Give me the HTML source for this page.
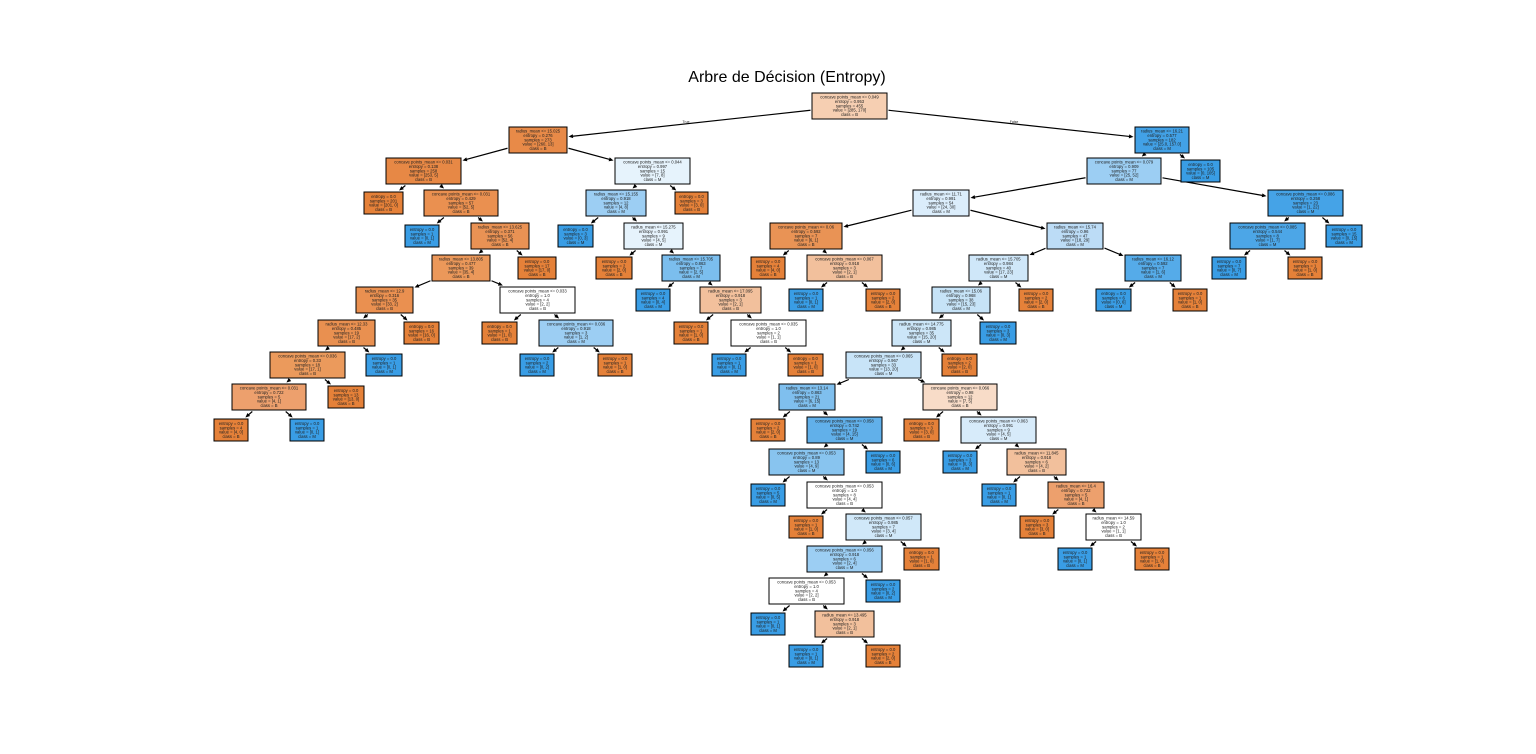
<!DOCTYPE html>
<html><head><meta charset="utf-8"><style>
html,body{margin:0;padding:0;background:#fff;}
svg{display:block;}
text{font-family:"Liberation Sans","DejaVu Sans",sans-serif;font-size:4.2px;fill:#222;text-anchor:middle;}
.t{font-size:16px;fill:#000;}
rect{stroke:#000;stroke-width:1;}
</style></head><body>
<svg id="s" width="1536" height="754" viewBox="0 0 1536 754" xmlns="http://www.w3.org/2000/svg">
<rect x="0" y="0" width="1536" height="754" fill="#fff" style="stroke:none"/>
<text class="t" x="787" y="82">Arbre de Décision (Entropy)</text>
<g id="edges"></g>
<text x="686" y="123" style="font-size:3.5px">True</text>
<text x="1014" y="123" style="font-size:3.5px">False</text>
<g id="nodes">
<g id="root"><rect x="812" y="93" width="75" height="26" fill="#f6cfb2"/><text x="849.5" y="98.5">concave points_mean &lt;= 0.049<tspan x="849.5" dy="4.4">entropy = 0.953</tspan><tspan x="849.5" dy="4.4">samples = 455</tspan><tspan x="849.5" dy="4.4">value = [285, 170]</tspan><tspan x="849.5" dy="4.4">class = B</tspan></text></g>
<g id="L1L"><rect x="509" y="127" width="58" height="26" fill="#e88a48"/><text x="538" y="132.5">radius_mean &lt;= 15.025<tspan x="538" dy="4.4">entropy = 0.276</tspan><tspan x="538" dy="4.4">samples = 273</tspan><tspan x="538" dy="4.4">value = [260, 13]</tspan><tspan x="538" dy="4.4">class = B</tspan></text></g>
<g id="L1R"><rect x="1135" y="127" width="54" height="26" fill="#42a1e6"/><text x="1162" y="132.5">radius_mean &lt;= 16.21<tspan x="1162" dy="4.4">entropy = 0.577</tspan><tspan x="1162" dy="4.4">samples = 182</tspan><tspan x="1162" dy="4.4">value = [25.0, 157.0]</tspan><tspan x="1162" dy="4.4">class = M</tspan></text></g>
<g id="A"><rect x="386" y="158" width="75" height="26" fill="#e78845"/><text x="423.5" y="163.5">concave points_mean &lt;= 0.031<tspan x="423.5" dy="4.4">entropy = 0.138</tspan><tspan x="423.5" dy="4.4">samples = 258</tspan><tspan x="423.5" dy="4.4">value = [253, 5]</tspan><tspan x="423.5" dy="4.4">class = B</tspan></text></g>
<g id="B"><rect x="615" y="158" width="75" height="26" fill="#e6f3fc"/><text x="652.5" y="163.5">concave points_mean &lt;= 0.044<tspan x="652.5" dy="4.4">entropy = 0.997</tspan><tspan x="652.5" dy="4.4">samples = 15</tspan><tspan x="652.5" dy="4.4">value = [7, 8]</tspan><tspan x="652.5" dy="4.4">class = M</tspan></text></g>
<g id="C"><rect x="1087" y="158" width="74" height="26" fill="#9ccef3"/><text x="1124" y="163.5">concave points_mean &lt;= 0.079<tspan x="1124" dy="4.4">entropy = 0.909</tspan><tspan x="1124" dy="4.4">samples = 77</tspan><tspan x="1124" dy="4.4">value = [25, 52]</tspan><tspan x="1124" dy="4.4">class = M</tspan></text></g>
<g id="l1"><rect x="1181" y="160" width="39" height="22" fill="#399de5"/><text x="1200.5" y="166">entropy = 0.0<tspan x="1200.5" dy="4.3">samples = 105</tspan><tspan x="1200.5" dy="4.3">value = [0, 105]</tspan><tspan x="1200.5" dy="4.3">class = M</tspan></text></g>
<g id="l2"><rect x="364" y="192" width="39" height="22" fill="#e58139"/><text x="383.5" y="198">entropy = 0.0<tspan x="383.5" dy="4.3">samples = 201</tspan><tspan x="383.5" dy="4.3">value = [201, 0]</tspan><tspan x="383.5" dy="4.3">class = B</tspan></text></g>
<g id="D"><rect x="424" y="190" width="74" height="26" fill="#ea9050"/><text x="461" y="195.5">concave points_mean &lt;= 0.031<tspan x="461" dy="4.4">entropy = 0.429</tspan><tspan x="461" dy="4.4">samples = 57</tspan><tspan x="461" dy="4.4">value = [52, 5]</tspan><tspan x="461" dy="4.4">class = B</tspan></text></g>
<g id="E"><rect x="586" y="190" width="60" height="26" fill="#9ccef3"/><text x="616" y="195.5">radius_mean &lt;= 15.155<tspan x="616" dy="4.4">entropy = 0.918</tspan><tspan x="616" dy="4.4">samples = 12</tspan><tspan x="616" dy="4.4">value = [4, 8]</tspan><tspan x="616" dy="4.4">class = M</tspan></text></g>
<g id="l3"><rect x="675" y="192" width="33" height="22" fill="#e58139"/><text x="691.5" y="198">entropy = 0.0<tspan x="691.5" dy="4.3">samples = 3</tspan><tspan x="691.5" dy="4.3">value = [3, 0]</tspan><tspan x="691.5" dy="4.3">class = B</tspan></text></g>
<g id="F"><rect x="913" y="190" width="56" height="26" fill="#dbedfb"/><text x="941" y="195.5">radius_mean &lt;= 11.71<tspan x="941" dy="4.4">entropy = 0.991</tspan><tspan x="941" dy="4.4">samples = 54</tspan><tspan x="941" dy="4.4">value = [24, 30]</tspan><tspan x="941" dy="4.4">class = M</tspan></text></g>
<g id="G"><rect x="1268" y="190" width="75" height="26" fill="#45a3e7"/><text x="1305.5" y="195.5">concave points_mean &lt;= 0.086<tspan x="1305.5" dy="4.4">entropy = 0.258</tspan><tspan x="1305.5" dy="4.4">samples = 23</tspan><tspan x="1305.5" dy="4.4">value = [1, 22]</tspan><tspan x="1305.5" dy="4.4">class = M</tspan></text></g>
<g id="l4"><rect x="405" y="225" width="34" height="22" fill="#399de5"/><text x="422" y="231">entropy = 0.0<tspan x="422" dy="4.3">samples = 1</tspan><tspan x="422" dy="4.3">value = [0, 1]</tspan><tspan x="422" dy="4.3">class = M</tspan></text></g>
<g id="H"><rect x="471" y="223" width="58" height="26" fill="#e99254"/><text x="500" y="228.5">radius_mean &lt;= 13.625<tspan x="500" dy="4.4">entropy = 0.371</tspan><tspan x="500" dy="4.4">samples = 56</tspan><tspan x="500" dy="4.4">value = [52, 4]</tspan><tspan x="500" dy="4.4">class = B</tspan></text></g>
<g id="l5"><rect x="558" y="225" width="35" height="22" fill="#399de5"/><text x="575.5" y="231">entropy = 0.0<tspan x="575.5" dy="4.3">samples = 3</tspan><tspan x="575.5" dy="4.3">value = [0, 3]</tspan><tspan x="575.5" dy="4.3">class = M</tspan></text></g>
<g id="I"><rect x="624" y="223" width="59" height="26" fill="#e6f3fc"/><text x="653.5" y="228.5">radius_mean &lt;= 15.275<tspan x="653.5" dy="4.4">entropy = 0.991</tspan><tspan x="653.5" dy="4.4">samples = 9</tspan><tspan x="653.5" dy="4.4">value = [4, 5]</tspan><tspan x="653.5" dy="4.4">class = M</tspan></text></g>
<g id="J"><rect x="770" y="223" width="72" height="26" fill="#e99355"/><text x="806" y="228.5">concave points_mean &lt;= 0.06<tspan x="806" dy="4.4">entropy = 0.592</tspan><tspan x="806" dy="4.4">samples = 7</tspan><tspan x="806" dy="4.4">value = [6, 1]</tspan><tspan x="806" dy="4.4">class = B</tspan></text></g>
<g id="K"><rect x="1047" y="223" width="56" height="26" fill="#bcdcf6"/><text x="1075" y="228.5">radius_mean &lt;= 15.74<tspan x="1075" dy="4.4">entropy = 0.96</tspan><tspan x="1075" dy="4.4">samples = 47</tspan><tspan x="1075" dy="4.4">value = [18, 29]</tspan><tspan x="1075" dy="4.4">class = M</tspan></text></g>
<g id="L"><rect x="1230" y="223" width="75" height="26" fill="#4ca6e7"/><text x="1267.5" y="228.5">concave points_mean &lt;= 0.085<tspan x="1267.5" dy="4.4">entropy = 0.544</tspan><tspan x="1267.5" dy="4.4">samples = 8</tspan><tspan x="1267.5" dy="4.4">value = [1, 7]</tspan><tspan x="1267.5" dy="4.4">class = M</tspan></text></g>
<g id="l6"><rect x="1326" y="225" width="36" height="22" fill="#399de5"/><text x="1344" y="231">entropy = 0.0<tspan x="1344" dy="4.3">samples = 15</tspan><tspan x="1344" dy="4.3">value = [0, 15]</tspan><tspan x="1344" dy="4.3">class = M</tspan></text></g>
<g id="M"><rect x="432" y="255" width="58" height="26" fill="#eb985a"/><text x="461" y="260.5">radius_mean &lt;= 13.805<tspan x="461" dy="4.4">entropy = 0.477</tspan><tspan x="461" dy="4.4">samples = 39</tspan><tspan x="461" dy="4.4">value = [35, 4]</tspan><tspan x="461" dy="4.4">class = B</tspan></text></g>
<g id="l7"><rect x="518" y="257" width="38" height="22" fill="#e58139"/><text x="537" y="263">entropy = 0.0<tspan x="537" dy="4.3">samples = 17</tspan><tspan x="537" dy="4.3">value = [17, 0]</tspan><tspan x="537" dy="4.3">class = B</tspan></text></g>
<g id="l8"><rect x="596" y="257" width="36" height="22" fill="#e58139"/><text x="614" y="263">entropy = 0.0<tspan x="614" dy="4.3">samples = 2</tspan><tspan x="614" dy="4.3">value = [2, 0]</tspan><tspan x="614" dy="4.3">class = B</tspan></text></g>
<g id="N"><rect x="662" y="255" width="58" height="26" fill="#7bbeee"/><text x="691" y="260.5">radius_mean &lt;= 15.705<tspan x="691" dy="4.4">entropy = 0.863</tspan><tspan x="691" dy="4.4">samples = 7</tspan><tspan x="691" dy="4.4">value = [2, 5]</tspan><tspan x="691" dy="4.4">class = M</tspan></text></g>
<g id="l9"><rect x="751" y="257" width="34" height="22" fill="#e58139"/><text x="768" y="263">entropy = 0.0<tspan x="768" dy="4.3">samples = 4</tspan><tspan x="768" dy="4.3">value = [4, 0]</tspan><tspan x="768" dy="4.3">class = B</tspan></text></g>
<g id="O"><rect x="807" y="255" width="75" height="26" fill="#f2c09c"/><text x="844.5" y="260.5">concave points_mean &lt;= 0.067<tspan x="844.5" dy="4.4">entropy = 0.918</tspan><tspan x="844.5" dy="4.4">samples = 3</tspan><tspan x="844.5" dy="4.4">value = [2, 1]</tspan><tspan x="844.5" dy="4.4">class = B</tspan></text></g>
<g id="P"><rect x="969" y="255" width="59" height="26" fill="#cfe7f9"/><text x="998.5" y="260.5">radius_mean &lt;= 15.705<tspan x="998.5" dy="4.4">entropy = 0.984</tspan><tspan x="998.5" dy="4.4">samples = 40</tspan><tspan x="998.5" dy="4.4">value = [17, 23]</tspan><tspan x="998.5" dy="4.4">class = M</tspan></text></g>
<g id="Q"><rect x="1125" y="255" width="56" height="26" fill="#55abe9"/><text x="1153" y="260.5">radius_mean &lt;= 16.12<tspan x="1153" dy="4.4">entropy = 0.592</tspan><tspan x="1153" dy="4.4">samples = 7</tspan><tspan x="1153" dy="4.4">value = [1, 6]</tspan><tspan x="1153" dy="4.4">class = M</tspan></text></g>
<g id="l10"><rect x="1212" y="257" width="34" height="22" fill="#399de5"/><text x="1229" y="263">entropy = 0.0<tspan x="1229" dy="4.3">samples = 7</tspan><tspan x="1229" dy="4.3">value = [0, 7]</tspan><tspan x="1229" dy="4.3">class = M</tspan></text></g>
<g id="l11"><rect x="1288" y="257" width="34" height="22" fill="#e58139"/><text x="1305" y="263">entropy = 0.0<tspan x="1305" dy="4.3">samples = 1</tspan><tspan x="1305" dy="4.3">value = [1, 0]</tspan><tspan x="1305" dy="4.3">class = B</tspan></text></g>
<g id="R"><rect x="356" y="287" width="57" height="26" fill="#ea9050"/><text x="384.5" y="292.5">radius_mean &lt;= 12.9<tspan x="384.5" dy="4.4">entropy = 0.316</tspan><tspan x="384.5" dy="4.4">samples = 35</tspan><tspan x="384.5" dy="4.4">value = [33, 2]</tspan><tspan x="384.5" dy="4.4">class = B</tspan></text></g>
<g id="S"><rect x="500" y="287" width="75" height="26" fill="#ffffff"/><text x="537.5" y="292.5">concave points_mean &lt;= 0.033<tspan x="537.5" dy="4.4">entropy = 1.0</tspan><tspan x="537.5" dy="4.4">samples = 4</tspan><tspan x="537.5" dy="4.4">value = [2, 2]</tspan><tspan x="537.5" dy="4.4">class = B</tspan></text></g>
<g id="l12"><rect x="636" y="289" width="34" height="22" fill="#399de5"/><text x="653" y="295">entropy = 0.0<tspan x="653" dy="4.3">samples = 4</tspan><tspan x="653" dy="4.3">value = [0, 4]</tspan><tspan x="653" dy="4.3">class = M</tspan></text></g>
<g id="T"><rect x="700" y="287" width="61" height="26" fill="#f2c09c"/><text x="730.5" y="292.5">radius_mean &lt;= 17.095<tspan x="730.5" dy="4.4">entropy = 0.918</tspan><tspan x="730.5" dy="4.4">samples = 3</tspan><tspan x="730.5" dy="4.4">value = [2, 1]</tspan><tspan x="730.5" dy="4.4">class = B</tspan></text></g>
<g id="l13"><rect x="789" y="289" width="34" height="22" fill="#399de5"/><text x="806" y="295">entropy = 0.0<tspan x="806" dy="4.3">samples = 1</tspan><tspan x="806" dy="4.3">value = [0, 1]</tspan><tspan x="806" dy="4.3">class = M</tspan></text></g>
<g id="l14"><rect x="866" y="289" width="34" height="22" fill="#e58139"/><text x="883" y="295">entropy = 0.0<tspan x="883" dy="4.3">samples = 2</tspan><tspan x="883" dy="4.3">value = [2, 0]</tspan><tspan x="883" dy="4.3">class = B</tspan></text></g>
<g id="U"><rect x="932" y="287" width="58" height="26" fill="#c6e3f7"/><text x="961" y="292.5">radius_mean &lt;= 15.06<tspan x="961" dy="4.4">entropy = 0.968</tspan><tspan x="961" dy="4.4">samples = 38</tspan><tspan x="961" dy="4.4">value = [15, 23]</tspan><tspan x="961" dy="4.4">class = M</tspan></text></g>
<g id="l15"><rect x="1019" y="289" width="34" height="22" fill="#e58139"/><text x="1036" y="295">entropy = 0.0<tspan x="1036" dy="4.3">samples = 2</tspan><tspan x="1036" dy="4.3">value = [2, 0]</tspan><tspan x="1036" dy="4.3">class = B</tspan></text></g>
<g id="l16"><rect x="1096" y="289" width="35" height="22" fill="#399de5"/><text x="1113.5" y="295">entropy = 0.0<tspan x="1113.5" dy="4.3">samples = 6</tspan><tspan x="1113.5" dy="4.3">value = [0, 6]</tspan><tspan x="1113.5" dy="4.3">class = M</tspan></text></g>
<g id="l17"><rect x="1173" y="289" width="34" height="22" fill="#e58139"/><text x="1190" y="295">entropy = 0.0<tspan x="1190" dy="4.3">samples = 1</tspan><tspan x="1190" dy="4.3">value = [1, 0]</tspan><tspan x="1190" dy="4.3">class = B</tspan></text></g>
<g id="V"><rect x="318" y="320" width="57" height="26" fill="#e99050"/><text x="346.5" y="325.5">radius_mean &lt;= 12.33<tspan x="346.5" dy="4.4">entropy = 0.485</tspan><tspan x="346.5" dy="4.4">samples = 19</tspan><tspan x="346.5" dy="4.4">value = [17, 2]</tspan><tspan x="346.5" dy="4.4">class = B</tspan></text></g>
<g id="l18"><rect x="404" y="322" width="35" height="22" fill="#e58139"/><text x="421.5" y="328">entropy = 0.0<tspan x="421.5" dy="4.3">samples = 16</tspan><tspan x="421.5" dy="4.3">value = [16, 0]</tspan><tspan x="421.5" dy="4.3">class = B</tspan></text></g>
<g id="l19"><rect x="482" y="322" width="35" height="22" fill="#e58139"/><text x="499.5" y="328">entropy = 0.0<tspan x="499.5" dy="4.3">samples = 1</tspan><tspan x="499.5" dy="4.3">value = [1, 0]</tspan><tspan x="499.5" dy="4.3">class = B</tspan></text></g>
<g id="W"><rect x="539" y="320" width="74" height="26" fill="#9ccef3"/><text x="576" y="325.5">concave points_mean &lt;= 0.036<tspan x="576" dy="4.4">entropy = 0.918</tspan><tspan x="576" dy="4.4">samples = 3</tspan><tspan x="576" dy="4.4">value = [1, 2]</tspan><tspan x="576" dy="4.4">class = M</tspan></text></g>
<g id="l20"><rect x="674" y="322" width="34" height="22" fill="#e58139"/><text x="691" y="328">entropy = 0.0<tspan x="691" dy="4.3">samples = 1</tspan><tspan x="691" dy="4.3">value = [1, 0]</tspan><tspan x="691" dy="4.3">class = B</tspan></text></g>
<g id="X"><rect x="731" y="320" width="75" height="26" fill="#ffffff"/><text x="768.5" y="325.5">concave points_mean &lt;= 0.035<tspan x="768.5" dy="4.4">entropy = 1.0</tspan><tspan x="768.5" dy="4.4">samples = 2</tspan><tspan x="768.5" dy="4.4">value = [1, 1]</tspan><tspan x="768.5" dy="4.4">class = B</tspan></text></g>
<g id="Y"><rect x="892" y="320" width="59" height="26" fill="#cce6f8"/><text x="921.5" y="325.5">radius_mean &lt;= 14.775<tspan x="921.5" dy="4.4">entropy = 0.985</tspan><tspan x="921.5" dy="4.4">samples = 35</tspan><tspan x="921.5" dy="4.4">value = [15, 20]</tspan><tspan x="921.5" dy="4.4">class = M</tspan></text></g>
<g id="l21"><rect x="980" y="322" width="36" height="22" fill="#399de5"/><text x="998" y="328">entropy = 0.0<tspan x="998" dy="4.3">samples = 3</tspan><tspan x="998" dy="4.3">value = [0, 3]</tspan><tspan x="998" dy="4.3">class = M</tspan></text></g>
<g id="Z"><rect x="270" y="352" width="75" height="26" fill="#eb9a5c"/><text x="307.5" y="357.5">concave points_mean &lt;= 0.036<tspan x="307.5" dy="4.4">entropy = 0.33</tspan><tspan x="307.5" dy="4.4">samples = 18</tspan><tspan x="307.5" dy="4.4">value = [17, 1]</tspan><tspan x="307.5" dy="4.4">class = B</tspan></text></g>
<g id="l22"><rect x="366" y="354" width="36" height="22" fill="#399de5"/><text x="384" y="360">entropy = 0.0<tspan x="384" dy="4.3">samples = 1</tspan><tspan x="384" dy="4.3">value = [0, 1]</tspan><tspan x="384" dy="4.3">class = M</tspan></text></g>
<g id="l23"><rect x="520" y="354" width="34" height="22" fill="#399de5"/><text x="537" y="360">entropy = 0.0<tspan x="537" dy="4.3">samples = 2</tspan><tspan x="537" dy="4.3">value = [0, 2]</tspan><tspan x="537" dy="4.3">class = M</tspan></text></g>
<g id="l24"><rect x="598" y="354" width="34" height="22" fill="#e58139"/><text x="615" y="360">entropy = 0.0<tspan x="615" dy="4.3">samples = 1</tspan><tspan x="615" dy="4.3">value = [1, 0]</tspan><tspan x="615" dy="4.3">class = B</tspan></text></g>
<g id="l25"><rect x="712" y="354" width="34" height="22" fill="#399de5"/><text x="729" y="360">entropy = 0.0<tspan x="729" dy="4.3">samples = 1</tspan><tspan x="729" dy="4.3">value = [0, 1]</tspan><tspan x="729" dy="4.3">class = M</tspan></text></g>
<g id="l26"><rect x="788" y="354" width="35" height="22" fill="#e58139"/><text x="805.5" y="360">entropy = 0.0<tspan x="805.5" dy="4.3">samples = 1</tspan><tspan x="805.5" dy="4.3">value = [1, 0]</tspan><tspan x="805.5" dy="4.3">class = B</tspan></text></g>
<g id="AA"><rect x="846" y="352" width="75" height="26" fill="#c8e4f8"/><text x="883.5" y="357.5">concave points_mean &lt;= 0.065<tspan x="883.5" dy="4.4">entropy = 0.967</tspan><tspan x="883.5" dy="4.4">samples = 33</tspan><tspan x="883.5" dy="4.4">value = [13, 20]</tspan><tspan x="883.5" dy="4.4">class = M</tspan></text></g>
<g id="l27"><rect x="942" y="354" width="35" height="22" fill="#e58139"/><text x="959.5" y="360">entropy = 0.0<tspan x="959.5" dy="4.3">samples = 2</tspan><tspan x="959.5" dy="4.3">value = [2, 0]</tspan><tspan x="959.5" dy="4.3">class = B</tspan></text></g>
<g id="AB"><rect x="232" y="384" width="74" height="26" fill="#eda06d"/><text x="269" y="389.5">concave points_mean &lt;= 0.031<tspan x="269" dy="4.4">entropy = 0.722</tspan><tspan x="269" dy="4.4">samples = 5</tspan><tspan x="269" dy="4.4">value = [4, 1]</tspan><tspan x="269" dy="4.4">class = B</tspan></text></g>
<g id="l28"><rect x="328" y="386" width="36" height="22" fill="#e58139"/><text x="346" y="392">entropy = 0.0<tspan x="346" dy="4.3">samples = 13</tspan><tspan x="346" dy="4.3">value = [13, 0]</tspan><tspan x="346" dy="4.3">class = B</tspan></text></g>
<g id="AC"><rect x="779" y="384" width="56" height="26" fill="#7fbfee"/><text x="807" y="389.5">radius_mean &lt;= 13.14<tspan x="807" dy="4.4">entropy = 0.863</tspan><tspan x="807" dy="4.4">samples = 21</tspan><tspan x="807" dy="4.4">value = [6, 15]</tspan><tspan x="807" dy="4.4">class = M</tspan></text></g>
<g id="AD"><rect x="923" y="384" width="74" height="26" fill="#f8dcc8"/><text x="960" y="389.5">concave points_mean &lt;= 0.066<tspan x="960" dy="4.4">entropy = 0.98</tspan><tspan x="960" dy="4.4">samples = 12</tspan><tspan x="960" dy="4.4">value = [7, 5]</tspan><tspan x="960" dy="4.4">class = B</tspan></text></g>
<g id="l29"><rect x="214" y="419" width="34" height="22" fill="#e58139"/><text x="231" y="425">entropy = 0.0<tspan x="231" dy="4.3">samples = 4</tspan><tspan x="231" dy="4.3">value = [4, 0]</tspan><tspan x="231" dy="4.3">class = B</tspan></text></g>
<g id="l30"><rect x="290" y="419" width="34" height="22" fill="#399de5"/><text x="307" y="425">entropy = 0.0<tspan x="307" dy="4.3">samples = 1</tspan><tspan x="307" dy="4.3">value = [0, 1]</tspan><tspan x="307" dy="4.3">class = M</tspan></text></g>
<g id="l31"><rect x="751" y="419" width="34" height="22" fill="#e58139"/><text x="768" y="425">entropy = 0.0<tspan x="768" dy="4.3">samples = 2</tspan><tspan x="768" dy="4.3">value = [2, 0]</tspan><tspan x="768" dy="4.3">class = B</tspan></text></g>
<g id="AE"><rect x="807" y="417" width="75" height="26" fill="#61b0ea"/><text x="844.5" y="422.5">concave points_mean &lt;= 0.058<tspan x="844.5" dy="4.4">entropy = 0.742</tspan><tspan x="844.5" dy="4.4">samples = 19</tspan><tspan x="844.5" dy="4.4">value = [4, 15]</tspan><tspan x="844.5" dy="4.4">class = M</tspan></text></g>
<g id="l32"><rect x="904" y="419" width="35" height="22" fill="#e58139"/><text x="921.5" y="425">entropy = 0.0<tspan x="921.5" dy="4.3">samples = 3</tspan><tspan x="921.5" dy="4.3">value = [3, 0]</tspan><tspan x="921.5" dy="4.3">class = B</tspan></text></g>
<g id="AF"><rect x="961" y="417" width="75" height="26" fill="#d7ebfa"/><text x="998.5" y="422.5">concave points_mean &lt;= 0.063<tspan x="998.5" dy="4.4">entropy = 0.991</tspan><tspan x="998.5" dy="4.4">samples = 9</tspan><tspan x="998.5" dy="4.4">value = [4, 5]</tspan><tspan x="998.5" dy="4.4">class = M</tspan></text></g>
<g id="AG"><rect x="769" y="449" width="75" height="26" fill="#88c4ef"/><text x="806.5" y="454.5">concave points_mean &lt;= 0.053<tspan x="806.5" dy="4.4">entropy = 0.89</tspan><tspan x="806.5" dy="4.4">samples = 13</tspan><tspan x="806.5" dy="4.4">value = [4, 9]</tspan><tspan x="806.5" dy="4.4">class = M</tspan></text></g>
<g id="l33"><rect x="866" y="451" width="34" height="22" fill="#399de5"/><text x="883" y="457">entropy = 0.0<tspan x="883" dy="4.3">samples = 6</tspan><tspan x="883" dy="4.3">value = [0, 6]</tspan><tspan x="883" dy="4.3">class = M</tspan></text></g>
<g id="l34"><rect x="943" y="451" width="34" height="22" fill="#399de5"/><text x="960" y="457">entropy = 0.0<tspan x="960" dy="4.3">samples = 3</tspan><tspan x="960" dy="4.3">value = [0, 3]</tspan><tspan x="960" dy="4.3">class = M</tspan></text></g>
<g id="AH"><rect x="1007" y="449" width="59" height="26" fill="#f2c09c"/><text x="1036.5" y="454.5">radius_mean &lt;= 11.845<tspan x="1036.5" dy="4.4">entropy = 0.918</tspan><tspan x="1036.5" dy="4.4">samples = 6</tspan><tspan x="1036.5" dy="4.4">value = [4, 2]</tspan><tspan x="1036.5" dy="4.4">class = B</tspan></text></g>
<g id="l35"><rect x="751" y="484" width="34" height="22" fill="#399de5"/><text x="768" y="490">entropy = 0.0<tspan x="768" dy="4.3">samples = 5</tspan><tspan x="768" dy="4.3">value = [0, 5]</tspan><tspan x="768" dy="4.3">class = M</tspan></text></g>
<g id="AI"><rect x="807" y="482" width="75" height="26" fill="#ffffff"/><text x="844.5" y="487.5">concave points_mean &lt;= 0.053<tspan x="844.5" dy="4.4">entropy = 1.0</tspan><tspan x="844.5" dy="4.4">samples = 8</tspan><tspan x="844.5" dy="4.4">value = [4, 4]</tspan><tspan x="844.5" dy="4.4">class = B</tspan></text></g>
<g id="l36"><rect x="982" y="484" width="34" height="22" fill="#399de5"/><text x="999" y="490">entropy = 0.0<tspan x="999" dy="4.3">samples = 1</tspan><tspan x="999" dy="4.3">value = [0, 1]</tspan><tspan x="999" dy="4.3">class = M</tspan></text></g>
<g id="AJ"><rect x="1048" y="482" width="56" height="26" fill="#eda06d"/><text x="1076" y="487.5">radius_mean &lt;= 16.4<tspan x="1076" dy="4.4">entropy = 0.722</tspan><tspan x="1076" dy="4.4">samples = 5</tspan><tspan x="1076" dy="4.4">value = [4, 1]</tspan><tspan x="1076" dy="4.4">class = B</tspan></text></g>
<g id="l37"><rect x="789" y="516" width="34" height="22" fill="#e58139"/><text x="806" y="522">entropy = 0.0<tspan x="806" dy="4.3">samples = 1</tspan><tspan x="806" dy="4.3">value = [1, 0]</tspan><tspan x="806" dy="4.3">class = B</tspan></text></g>
<g id="AK"><rect x="846" y="514" width="75" height="26" fill="#d0e8f9"/><text x="883.5" y="519.5">concave points_mean &lt;= 0.057<tspan x="883.5" dy="4.4">entropy = 0.985</tspan><tspan x="883.5" dy="4.4">samples = 7</tspan><tspan x="883.5" dy="4.4">value = [3, 4]</tspan><tspan x="883.5" dy="4.4">class = M</tspan></text></g>
<g id="l38"><rect x="1020" y="516" width="34" height="22" fill="#e58139"/><text x="1037" y="522">entropy = 0.0<tspan x="1037" dy="4.3">samples = 3</tspan><tspan x="1037" dy="4.3">value = [3, 0]</tspan><tspan x="1037" dy="4.3">class = B</tspan></text></g>
<g id="AL"><rect x="1086" y="514" width="55" height="26" fill="#ffffff"/><text x="1113.5" y="519.5">radius_mean &lt;= 14.59<tspan x="1113.5" dy="4.4">entropy = 1.0</tspan><tspan x="1113.5" dy="4.4">samples = 2</tspan><tspan x="1113.5" dy="4.4">value = [1, 1]</tspan><tspan x="1113.5" dy="4.4">class = B</tspan></text></g>
<g id="AM"><rect x="807" y="546" width="75" height="26" fill="#9ccef3"/><text x="844.5" y="551.5">concave points_mean &lt;= 0.056<tspan x="844.5" dy="4.4">entropy = 0.918</tspan><tspan x="844.5" dy="4.4">samples = 6</tspan><tspan x="844.5" dy="4.4">value = [2, 4]</tspan><tspan x="844.5" dy="4.4">class = M</tspan></text></g>
<g id="l39"><rect x="904" y="548" width="35" height="22" fill="#e58139"/><text x="921.5" y="554">entropy = 0.0<tspan x="921.5" dy="4.3">samples = 1</tspan><tspan x="921.5" dy="4.3">value = [1, 0]</tspan><tspan x="921.5" dy="4.3">class = B</tspan></text></g>
<g id="l40"><rect x="1058" y="548" width="34" height="22" fill="#399de5"/><text x="1075" y="554">entropy = 0.0<tspan x="1075" dy="4.3">samples = 1</tspan><tspan x="1075" dy="4.3">value = [0, 1]</tspan><tspan x="1075" dy="4.3">class = M</tspan></text></g>
<g id="l41"><rect x="1135" y="548" width="34" height="22" fill="#e58139"/><text x="1152" y="554">entropy = 0.0<tspan x="1152" dy="4.3">samples = 1</tspan><tspan x="1152" dy="4.3">value = [1, 0]</tspan><tspan x="1152" dy="4.3">class = B</tspan></text></g>
<g id="AN"><rect x="769" y="578" width="75" height="26" fill="#ffffff"/><text x="806.5" y="583.5">concave points_mean &lt;= 0.053<tspan x="806.5" dy="4.4">entropy = 1.0</tspan><tspan x="806.5" dy="4.4">samples = 4</tspan><tspan x="806.5" dy="4.4">value = [2, 2]</tspan><tspan x="806.5" dy="4.4">class = B</tspan></text></g>
<g id="l42"><rect x="866" y="580" width="34" height="22" fill="#399de5"/><text x="883" y="586">entropy = 0.0<tspan x="883" dy="4.3">samples = 2</tspan><tspan x="883" dy="4.3">value = [0, 2]</tspan><tspan x="883" dy="4.3">class = M</tspan></text></g>
<g id="l43"><rect x="751" y="613" width="34" height="22" fill="#399de5"/><text x="768" y="619">entropy = 0.0<tspan x="768" dy="4.3">samples = 1</tspan><tspan x="768" dy="4.3">value = [0, 1]</tspan><tspan x="768" dy="4.3">class = M</tspan></text></g>
<g id="AO"><rect x="815" y="611" width="59" height="26" fill="#f2c09c"/><text x="844.5" y="616.5">radius_mean &lt;= 13.495<tspan x="844.5" dy="4.4">entropy = 0.918</tspan><tspan x="844.5" dy="4.4">samples = 3</tspan><tspan x="844.5" dy="4.4">value = [2, 1]</tspan><tspan x="844.5" dy="4.4">class = B</tspan></text></g>
<g id="l44"><rect x="789" y="645" width="34" height="22" fill="#399de5"/><text x="806" y="651">entropy = 0.0<tspan x="806" dy="4.3">samples = 1</tspan><tspan x="806" dy="4.3">value = [0, 1]</tspan><tspan x="806" dy="4.3">class = M</tspan></text></g>
<g id="l45"><rect x="866" y="645" width="34" height="22" fill="#e58139"/><text x="883" y="651">entropy = 0.0<tspan x="883" dy="4.3">samples = 2</tspan><tspan x="883" dy="4.3">value = [2, 0]</tspan><tspan x="883" dy="4.3">class = B</tspan></text></g>
</g>
</svg>
<script>
(function(){
var E=[["root","L1L"],["root","L1R"],["L1L","A"],["L1L","B"],["L1R","C"],["L1R","l1"],
["A","l2"],["A","D"],["B","E"],["B","l3"],["C","F"],["C","G"],["D","l4"],["D","H"],["E","l5"],["E","I"],
["F","J"],["F","K"],["G","L"],["G","l6"],["H","M"],["H","l7"],["I","l8"],["I","N"],["J","l9"],["J","O"],
["K","P"],["K","Q"],["L","l10"],["L","l11"],["M","R"],["M","S"],["N","l12"],["N","T"],["O","l13"],["O","l14"],
["P","U"],["P","l15"],["Q","l16"],["Q","l17"],["R","V"],["R","l18"],["S","l19"],["S","W"],["T","l20"],["T","X"],
["U","Y"],["U","l21"],["V","Z"],["V","l22"],["W","l23"],["W","l24"],["X","l25"],["X","l26"],["Y","AA"],["Y","l27"],
["Z","AB"],["Z","l28"],["AA","AC"],["AA","AD"],["AB","l29"],["AB","l30"],["AC","l31"],["AC","AE"],["AD","l32"],["AD","AF"],
["AE","AG"],["AE","l33"],["AF","l34"],["AF","AH"],["AG","l35"],["AG","AI"],["AH","l36"],["AH","AJ"],["AI","l37"],["AI","AK"],
["AJ","l38"],["AJ","AL"],["AK","AM"],["AK","l39"],["AL","l40"],["AL","l41"],["AM","AN"],["AM","l42"],["AN","l43"],["AN","AO"],
["AO","l44"],["AO","l45"]];
var ns="http://www.w3.org/2000/svg",g=document.getElementById("edges");
function box(id){var r=document.querySelector("#"+id+" rect");var x=+r.getAttribute("x"),y=+r.getAttribute("y"),w=+r.getAttribute("width"),h=+r.getAttribute("height");return {cx:x+w/2,cy:y+h/2,hw:w/2+1.5,hh:h/2+1.5};}
function clip(b,dx,dy){var t=Math.min(Math.abs(dx)>1e-6?b.hw/Math.abs(dx):1e9,Math.abs(dy)>1e-6?b.hh/Math.abs(dy):1e9);return t;}
E.forEach(function(e){var p=box(e[0]),c=box(e[1]);var dx=c.cx-p.cx,dy=c.cy-p.cy;
var t0=clip(p,dx,dy),t1=1-clip(c,dx,dy);
var x0=p.cx+dx*t0,y0=p.cy+dy*t0,x1=p.cx+dx*t1,y1=p.cy+dy*t1;
var L=Math.sqrt(dx*dx+dy*dy),ux=dx/L,uy=dy/L;
var ln=document.createElementNS(ns,"line");ln.setAttribute("x1",x0);ln.setAttribute("y1",y0);ln.setAttribute("x2",x1-ux*3);ln.setAttribute("y2",y1-uy*3);
ln.setAttribute("stroke","#000");ln.setAttribute("stroke-width","1.2");g.appendChild(ln);
var a=4.5,wd=2;var bx=x1-ux*a,by=y1-uy*a;
var pg=document.createElementNS(ns,"polygon");
pg.setAttribute("points",x1+","+y1+" "+(bx-uy*wd)+","+(by+ux*wd)+" "+(bx+uy*wd)+","+(by-ux*wd));
pg.setAttribute("fill","#000");g.appendChild(pg);});
})();
</script>
</body></html>
